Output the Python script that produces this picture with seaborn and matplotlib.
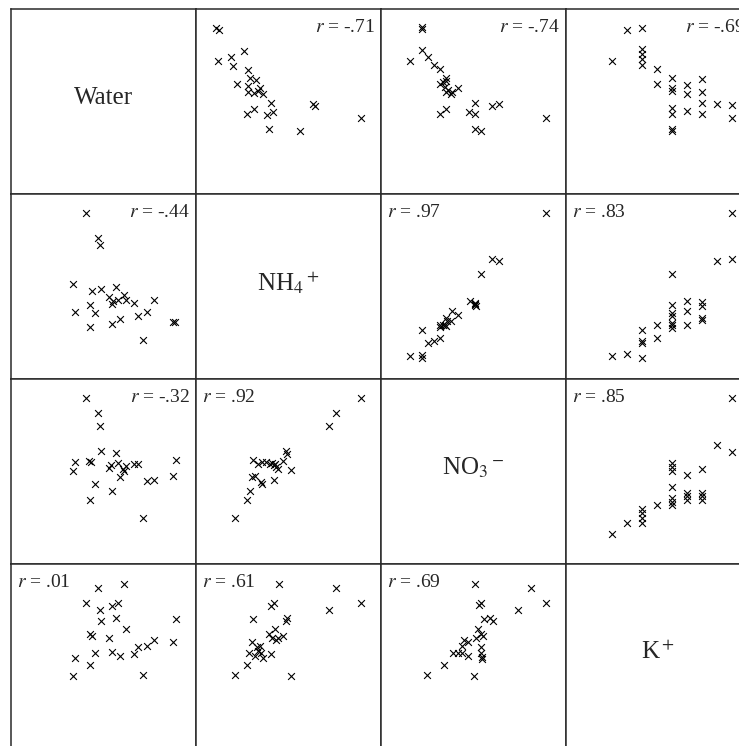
import matplotlib
matplotlib.use("Agg")
import matplotlib.pyplot as plt
import seaborn as sns

sns.set_style("white")
plt.rcParams["font.family"] = ["Liberation Serif", "DejaVu Serif"]
plt.rcParams["mathtext.fontset"] = "stix"

variables = ["Water", r"NH$_4$$^+$", r"NO$_3$$^-$", r"K$^+$"]

# panel (row, col) values, 0-100 relative units
p01_x = [10.8, 12.6, 26.1, 11.7, 18.9, 20.0, 28.3, 22.1, 29.2, 32.4, 28.3, 34.6, 28.3,
         31.5, 36.4, 40.5, 27.4, 31.3, 38.5, 41.8, 39.4, 56.2, 63.4, 64.4, 89.1, 33.7]
p01_y = [89.9, 88.5, 77.5, 71.9, 73.9, 69.4, 67.2, 59.5, 62.6, 61.7, 58.4, 57.5, 55.0,
         54.8, 53.9, 49.1, 43.1, 45.8, 42.8, 44.2, 35.0, 33.8, 48.5, 47.6, 41.0, 55.7]

p02_x = [22.3, 22.3, 22.3, 15.7, 25.2, 28.6, 31.9, 34.9, 34.9, 31.9, 34.6, 34.9, 37.8, 38.5,
         41.4, 31.9, 34.9, 47.5, 50.8, 50.8, 60.1, 63.7, 50.8, 54.0, 89.1, 36.4, 33.7]
p02_y = [90.3, 89.2, 77.9, 71.9, 73.9, 69.8, 67.6, 62.6, 61.1, 59.5, 58.1, 55.0, 53.9, 55.0,
         57.2, 43.1, 46.0, 44.2, 43.1, 49.1, 47.8, 48.5, 35.2, 34.1, 41.0, 56.3, 60.4]

p03_x = [32.8, 40.9, 24.7, 40.9, 40.9, 40.9, 40.9, 49.0, 49.0, 57.1, 57.1, 57.1, 57.1,
         57.1, 57.1, 57.1, 65.2, 65.2, 65.2, 73.3, 73.3, 73.3, 73.3, 81.4, 89.5, 89.5]
p03_y = [88.7, 89.9, 71.9, 78.4, 75.7, 73.0, 69.8, 67.6, 59.7, 62.9, 57.2, 55.7, 46.4,
         43.1, 35.2, 34.1, 59.0, 53.9, 44.6, 62.2, 55.4, 49.4, 43.1, 48.7, 48.2, 41.3]

p10_x = [40.5, 47.2, 48.1, 33.3, 43.6, 48.6, 56.7, 52.9, 54.4, 57.6, 61.0, 61.9, 66.6,
         77.2, 42.7, 34.6, 45.4, 42.7, 54.4, 58.9, 68.8, 73.3, 71.5, 87.7, 88.9, 55.3]
p10_y = [89.7, 76.2, 72.6, 51.4, 47.4, 48.9, 49.8, 44.2, 40.6, 42.8, 45.6, 42.9, 41.0,
         42.6, 39.9, 36.3, 35.6, 28.2, 29.8, 32.7, 34.1, 36.1, 21.3, 30.9, 30.9, 42.0]

p12_x = [89.1, 60.1, 63.7, 54.0, 48.1, 50.8, 50.8, 51.1, 38.2, 41.4, 34.9, 35.5, 34.6,
         37.8, 31.9, 31.9, 22.3, 25.6, 28.8, 31.9, 15.7, 22.3, 22.3, 33.7, 34.9, 50.8]
p12_y = [89.7, 65.1, 64.0, 56.8, 42.4, 41.1, 39.9, 39.2, 37.0, 34.8, 33.0, 31.2, 29.4,
         31.6, 29.1, 28.0, 26.7, 19.5, 20.4, 22.2, 12.3, 13.2, 11.1, 29.1, 28.5, 40.6]

p13_x = [89.5, 81.4, 89.5, 57.1, 57.1, 57.1, 57.1, 57.1, 57.1, 57.1, 65.2, 65.2, 65.2,
         73.3, 73.3, 73.3, 73.3, 49.0, 49.0, 40.9, 40.9, 40.9, 40.9, 24.7, 32.8]
p13_y = [89.7, 64.0, 65.1, 56.8, 40.2, 35.7, 33.9, 30.3, 29.1, 27.6, 42.4, 37.0, 29.1,
         41.5, 39.7, 33.0, 31.8, 29.1, 22.2, 26.7, 20.8, 19.5, 11.1, 12.3, 13.6]

p20_x = [40.5, 47.2, 48.1, 48.6, 56.7, 34.6, 33.3, 42.1, 43.2, 52.9, 54.0, 57.6, 60.7,
         61.9, 61.2, 66.6, 68.8, 58.9, 45.4, 54.4, 42.7, 73.3, 77.2, 87.7, 89.1, 71.5]
p20_y = [89.7, 81.6, 74.4, 61.3, 60.0, 55.2, 50.5, 55.5, 55.2, 51.9, 53.7, 54.8, 51.2,
         52.8, 50.5, 54.3, 53.9, 47.1, 43.1, 39.5, 34.5, 44.7, 45.6, 47.4, 56.1, 25.1]

p21_x = [89.1, 75.6, 72.0, 48.4, 49.3, 47.2, 51.1, 30.6, 33.7, 35.5, 37.8, 40.0, 40.9,
         42.1, 43.2, 44.5, 42.7, 30.1, 31.9, 34.9, 35.5, 42.3, 29.2, 27.7, 21.1]
p21_y = [89.7, 81.6, 74.6, 61.3, 59.7, 55.5, 50.7, 56.3, 54.3, 55.2, 55.2, 54.3, 54.8,
         53.4, 52.5, 51.6, 54.3, 47.1, 47.5, 44.4, 43.5, 45.6, 39.5, 34.5, 25.1]

p23_x = [89.5, 81.4, 89.5, 57.1, 57.1, 57.1, 65.2, 73.3, 57.1, 57.1, 57.1, 57.1, 65.2,
         65.2, 65.2, 73.3, 73.3, 73.3, 49.0, 40.9, 40.9, 40.9, 40.9, 32.8, 24.7]
p23_y = [89.7, 64.2, 60.6, 54.8, 52.5, 50.1, 48.0, 51.2, 41.7, 35.7, 33.6, 31.8, 38.6,
         36.8, 34.5, 38.6, 36.8, 34.5, 31.8, 29.6, 27.3, 24.6, 21.9, 22.4, 16.1]

p30_x = [47.2, 61.2, 40.5, 48.1, 54.4, 58.0, 48.6, 56.7, 89.1, 61.9, 42.7, 43.6, 53.1,
         34.6, 45.4, 54.4, 58.9, 66.6, 68.8, 73.3, 77.2, 87.7, 42.7, 33.3, 71.5]
p30_y = [87.2, 89.2, 78.8, 75.2, 77.5, 78.8, 69.2, 70.7, 70.3, 64.7, 62.2, 61.3, 59.9,
         49.1, 52.1, 52.3, 50.5, 51.2, 55.0, 55.7, 59.0, 58.1, 45.5, 39.7, 40.1]

p31_x = [45.0, 75.6, 89.1, 72.0, 40.5, 42.3, 30.6, 48.4, 49.3, 42.7, 39.4, 41.2, 43.0, 44.5,
         47.2, 30.1, 32.8, 34.6, 28.8, 31.9, 34.9, 36.0, 33.7, 40.5, 27.7, 21.1, 51.1]
p31_y = [89.2, 86.9, 78.8, 75.2, 77.5, 78.8, 70.3, 69.2, 70.7, 64.7, 62.0, 60.2, 59.0, 59.9,
         61.1, 58.1, 55.4, 55.7, 52.1, 50.5, 51.8, 49.1, 53.2, 51.2, 45.5, 40.1, 39.7]

p32_x = [50.8, 81.0, 89.1, 74.2, 53.1, 54.0, 55.8, 58.9, 60.7, 52.2, 54.0, 55.3, 51.1, 45.0,
         46.8, 43.9, 54.0, 38.7, 41.4, 43.9, 46.8, 54.0, 54.4, 54.7, 34.2, 25.0, 50.4]
p32_y = [89.2, 87.2, 78.8, 75.2, 77.9, 78.8, 70.3, 70.7, 69.2, 64.7, 62.2, 61.1, 59.9, 59.0,
         58.1, 55.7, 55.0, 52.1, 52.1, 51.8, 50.5, 51.8, 49.6, 48.6, 45.5, 40.1, 39.7]

r_labels = {(0, 1): "-.71", (0, 2): "-.74", (0, 3): "-.69",
            (1, 0): "-.44", (1, 2): ".97", (1, 3): ".83",
            (2, 0): "-.32", (2, 1): ".92", (2, 3): ".85",
            (3, 0): ".01", (3, 1): ".61", (3, 2): ".69"}
r_right = [(0, 1), (0, 2), (0, 3), (1, 0), (2, 0)]

panels = {(0, 1): (p01_x, p01_y), (0, 2): (p02_x, p02_y), (0, 3): (p03_x, p03_y),
          (1, 0): (p10_x, p10_y), (1, 2): (p12_x, p12_y), (1, 3): (p13_x, p13_y),
          (2, 0): (p20_x, p20_y), (2, 1): (p21_x, p21_y), (2, 3): (p23_x, p23_y),
          (3, 0): (p30_x, p30_y), (3, 1): (p31_x, p31_y), (3, 2): (p32_x, p32_y)}

W, H = 739, 746
fig = plt.figure(figsize=(W / 100, H / 100), dpi=100)
x0, y0, cell = 11, 9, 185

for r in range(4):
    for c in range(4):
        left = x0 + cell * c
        top = y0 + cell * r
        ax = fig.add_axes([left / W, 1 - (top + cell) / H, cell / W, cell / H])
        ax.set_xlim(0, 100)
        ax.set_ylim(0, 100)
        ax.set_xticks([])
        ax.set_yticks([])
        for s in ax.spines.values():
            s.set_color("#2a2a2a")
            s.set_linewidth(1.1)
        if r == c:
            ax.text(50, 52, variables[r], ha="center", va="center", fontsize=18)
            continue
        xs, ys = panels[(r, c)]
        sns.scatterplot(x=xs, y=ys, ax=ax, marker="x", s=24, color="black",
                        linewidth=0.8, legend=False)
        ax.set_xlim(0, 100)
        ax.set_ylim(0, 100)
        lab = r"$r$ = " + r_labels[(r, c)]
        if (r, c) in r_right:
            ax.text(97, 87.4, lab, ha="right", va="baseline", fontsize=14)
        else:
            ax.text(3.1, 87.4, lab, ha="left", va="baseline", fontsize=14)

fig.savefig("out.png", dpi=100)
